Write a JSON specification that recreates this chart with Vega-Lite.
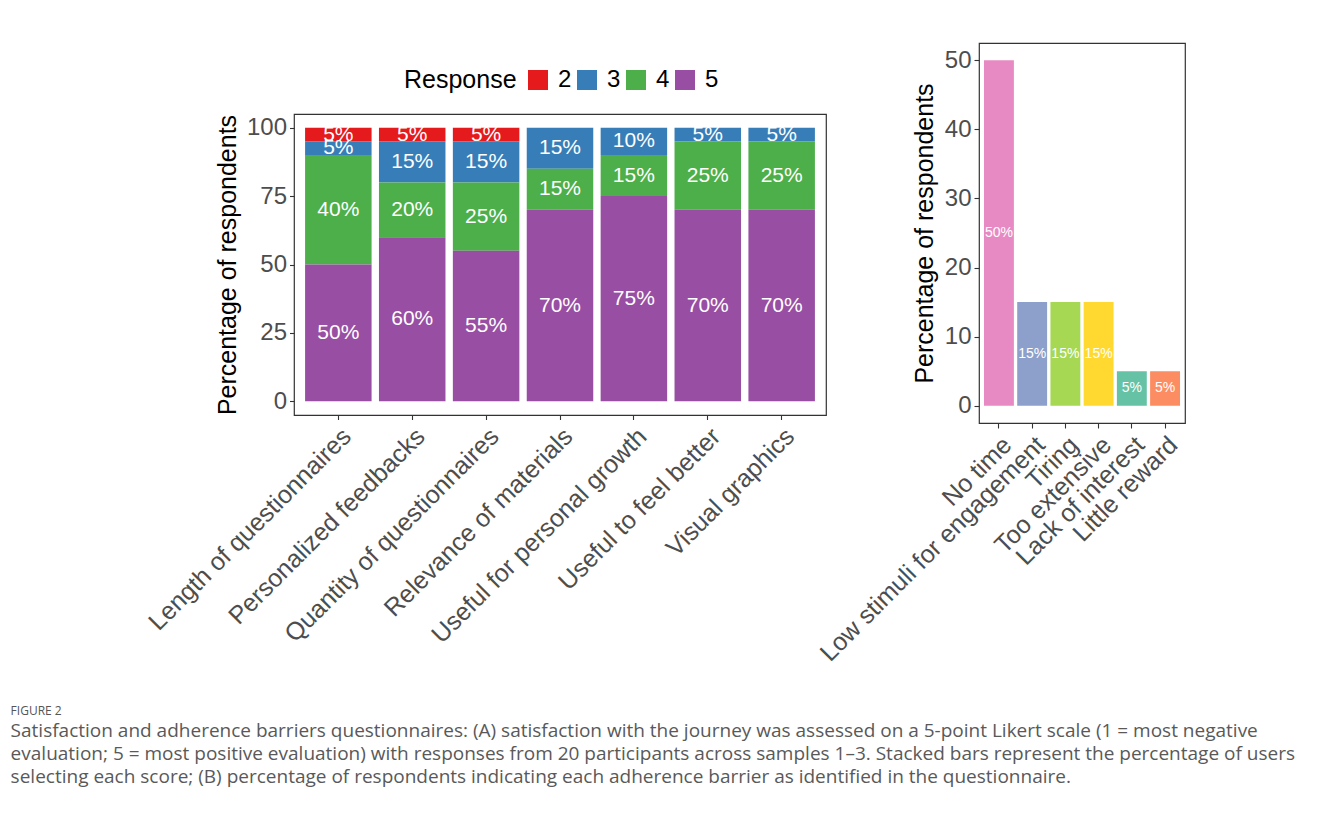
{
  "$schema": "https://vega.github.io/schema/vega-lite/v6.json",
  "background": "white",
  "padding": {"left": 10, "top": 42, "right": 0, "bottom": 0},
  "config": {
    "font": "Liberation Sans",
    "view": {"stroke": "#333333", "strokeWidth": 1.2},
    "axis": {"grid": false, "domain": false, "tickColor": "#333333", "tickWidth": 1.1, "labelColor": "#4D4D4D", "titleColor": "#000000", "titleFontWeight": "normal", "labelFont": "Liberation Sans", "titleFont": "Liberation Sans"}
  },
  "title": {
    "text": "FIGURE 2",
    "subtitle": [
      "Satisfaction and adherence barriers questionnaires: (A) satisfaction with the journey was assessed on a 5-point Likert scale (1 = most negative",
      "evaluation; 5 = most positive evaluation) with responses from 20 participants across samples 1–3. Stacked bars represent the percentage of users",
      "selecting each score; (B) percentage of respondents indicating each adherence barrier as identified in the questionnaire."
    ],
    "orient": "bottom",
    "anchor": "start",
    "frame": "bounds",
    "dx": -133,
    "offset": 40,
    "font": "Open Sans",
    "fontSize": 12,
    "fontWeight": "normal",
    "color": "#555555",
    "subtitleFont": "Open Sans",
    "subtitleFontSize": 19,
    "subtitleColor": "#595959",
    "subtitleLineHeight": 23,
    "subtitlePadding": 4
  },
  "spacing": -13,
  "resolve": {"scale": {"color": "independent"}, "legend": {"color": "independent"}},
  "hconcat": [
    {
      "spacing": 69,
      "vconcat": [
        {
          "width": 532,
          "height": 1,
          "data": {"values": []},
          "mark": {"type": "rule"},
          "encoding": {},
          "view": {"stroke": null}
        },
        {
          "width": 532,
          "height": 301,
          "data": {"values": [
            {"item": "Length of questionnaires", "response": 2, "pct": 5},
            {"item": "Length of questionnaires", "response": 3, "pct": 5},
            {"item": "Length of questionnaires", "response": 4, "pct": 40},
            {"item": "Length of questionnaires", "response": 5, "pct": 50},
            {"item": "Personalized feedbacks", "response": 2, "pct": 5},
            {"item": "Personalized feedbacks", "response": 3, "pct": 15},
            {"item": "Personalized feedbacks", "response": 4, "pct": 20},
            {"item": "Personalized feedbacks", "response": 5, "pct": 60},
            {"item": "Quantity of questionnaires", "response": 2, "pct": 5},
            {"item": "Quantity of questionnaires", "response": 3, "pct": 15},
            {"item": "Quantity of questionnaires", "response": 4, "pct": 25},
            {"item": "Quantity of questionnaires", "response": 5, "pct": 55},
            {"item": "Relevance of materials", "response": 3, "pct": 15},
            {"item": "Relevance of materials", "response": 4, "pct": 15},
            {"item": "Relevance of materials", "response": 5, "pct": 70},
            {"item": "Useful for personal growth", "response": 3, "pct": 10},
            {"item": "Useful for personal growth", "response": 4, "pct": 15},
            {"item": "Useful for personal growth", "response": 5, "pct": 75},
            {"item": "Useful to feel better", "response": 3, "pct": 5},
            {"item": "Useful to feel better", "response": 4, "pct": 25},
            {"item": "Useful to feel better", "response": 5, "pct": 70},
            {"item": "Visual graphics", "response": 3, "pct": 5},
            {"item": "Visual graphics", "response": 4, "pct": 25},
            {"item": "Visual graphics", "response": 5, "pct": 70}
          ]},
          "transform": [
            {"stack": "pct", "groupby": ["item"], "sort": [{"field": "response", "order": "descending"}], "as": ["y0", "y1"]},
            {"calculate": "(datum.y0 + datum.y1) / 2", "as": "ymid"},
            {"calculate": "datum.pct + '%'", "as": "label"}
          ],
          "encoding": {
            "x": {
              "field": "item", "type": "nominal",
              "scale": {"paddingInner": 0.1, "paddingOuter": 0.15},
              "axis": {"title": null, "labelAngle": -45, "labelAlign": "right", "labelBaseline": "top", "labelFontSize": 25, "labelPadding": 4, "tickSize": 4.5, "labelLimit": 0, "labelOverlap": false, "labelBound": false}
            }
          },
          "layer": [
            {
              "mark": {"type": "bar"},
              "encoding": {
                "y": {
                  "field": "y0", "type": "quantitative",
                  "scale": {"domain": [-5, 105], "nice": false, "zero": false},
                  "axis": {"title": "Percentage of respondents", "values": [0, 25, 50, 75, 100], "labelFontSize": 24, "titleFontSize": 25, "tickSize": 4.5, "labelPadding": 3, "titlePadding": 6}
                },
                "y2": {"field": "y1"},
                "color": {
                  "field": "response", "type": "nominal",
                  "scale": {"domain": [2, 3, 4, 5], "range": ["#E41A1C", "#377EB8", "#4DAF4A", "#984EA3"]},
                  "legend": {
                    "title": "Response", "orient": "none", "legendX": 110, "legendY": 25, "padding": 0,
                    "direction": "horizontal", "titleOrient": "left", "titleFontSize": 25, "titleFontWeight": "normal", "titleColor": "#000000",
                    "labelFontSize": 24, "labelColor": "#000000", "symbolType": "square", "symbolSize": 400, "symbolStrokeWidth": 0,
                    "labelOffset": 8, "columnPadding": 3, "titlePadding": 9
                  }
                }
              }
            },
            {
              "mark": {"type": "text", "color": "white", "fontSize": 21, "baseline": "middle", "align": "center"},
              "encoding": {
                "y": {"field": "ymid", "type": "quantitative"},
                "text": {"field": "label", "type": "nominal"}
              }
            }
          ]
        }
      ]
    },
    {
      "width": 206,
      "height": 380,
      "data": {"values": [
        {"barrier": "No time", "pct": 50},
        {"barrier": "Low stimuli for engagement", "pct": 15},
        {"barrier": "Tiring", "pct": 15},
        {"barrier": "Too extensive", "pct": 15},
        {"barrier": "Lack of interest", "pct": 5},
        {"barrier": "Little reward", "pct": 5}
      ]},
      "transform": [
        {"calculate": "datum.pct / 2", "as": "ymid"},
        {"calculate": "datum.pct + '%'", "as": "label"}
      ],
      "encoding": {
        "x": {
          "field": "barrier", "type": "nominal",
          "sort": ["No time", "Low stimuli for engagement", "Tiring", "Too extensive", "Lack of interest", "Little reward"],
          "scale": {"paddingInner": 0.1, "paddingOuter": 0.15},
          "axis": {"title": null, "labelAngle": -45, "labelAlign": "right", "labelBaseline": "top", "labelFontSize": 25, "labelPadding": 4, "tickSize": 5, "labelLimit": 0, "labelOverlap": false, "labelBound": false}
        }
      },
      "layer": [
        {
          "mark": {"type": "bar"},
          "encoding": {
            "y": {
              "field": "pct", "type": "quantitative",
              "scale": {"domain": [-2.5, 52.5], "nice": false, "zero": false},
              "axis": {"title": "Percentage of respondents", "values": [0, 10, 20, 30, 40, 50], "labelFontSize": 24, "titleFontSize": 25, "tickSize": 5, "labelPadding": 3, "titlePadding": 7}
            },
            "y2": {"datum": 0},
            "color": {
              "field": "barrier", "type": "nominal",
              "scale": {"domain": ["No time", "Low stimuli for engagement", "Tiring", "Too extensive", "Lack of interest", "Little reward"], "range": ["#E78AC3", "#8DA0CB", "#A6D854", "#FFD92F", "#66C2A5", "#FC8D62"]},
              "legend": null
            }
          }
        },
        {
          "mark": {"type": "text", "color": "white", "fontSize": 14, "baseline": "middle", "align": "center"},
          "encoding": {
            "y": {"field": "ymid", "type": "quantitative"},
            "text": {"field": "label", "type": "nominal"}
          }
        }
      ]
    }
  ]
}
